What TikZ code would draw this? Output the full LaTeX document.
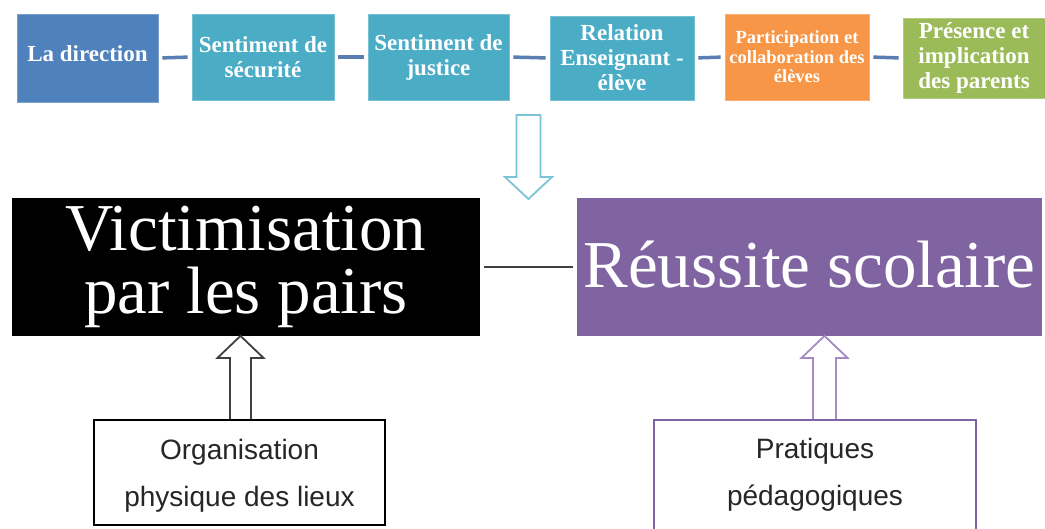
\documentclass[tikz,border=0pt]{standalone}
\usepackage{fontspec}
\setmainfont{Liberation Serif}
\setsansfont{Liberation Sans}
\usetikzlibrary{calc}
\definecolor{cblue}{HTML}{4F81BD}
\definecolor{cteal}{HTML}{4BACC6}
\definecolor{corange}{HTML}{F79646}
\definecolor{cgreen}{HTML}{9BBB59}
\definecolor{cpurple}{HTML}{8064A2}
\definecolor{cconn}{HTML}{5A7DB2}
\definecolor{carrowteal}{HTML}{7CC3D8}
\definecolor{carrowpurple}{HTML}{A48BC4}
\definecolor{cdark}{HTML}{3F3F3F}
\tikzset{
  topbox/.style={rectangle, fill=#1, draw=#1!75!white, line width=0.8pt, text=white,
    font=\bfseries\fontsize{23}{25}\selectfont, align=center, inner sep=0pt},
  smalltop/.style={font=\bfseries\fontsize{18.5}{19.5}\selectfont},
  conn/.style={draw=cconn, line width=3.5pt, shorten >=4pt, shorten <=4pt},
  bigbox/.style={rectangle, fill=#1, draw=none, text=white, inner sep=0pt,
    font=\fontsize{67}{63}\selectfont, align=center},
  botbox/.style={rectangle, draw=#1, fill=white, line width=2.2pt, inner sep=0pt,
    text=black!85, font=\sffamily\fontsize{28}{47}\selectfont, align=center},
  blockarrow/.style={draw=#1, fill=white, line width=1.8pt, line join=miter},
}
\begin{document}
\begin{tikzpicture}[x=1pt,y=-1pt]
\useasboundingbox (0,0) rectangle (1045,528);
\clip (0,0) rectangle (1045,528);
\fill[white] (0,0) rectangle (1045,528);
% top row
\node[topbox=cblue, minimum width=141pt, minimum height=88pt] (d1) at (87.5,58) {\raisebox{8pt}{La direction}};
\node[topbox=cteal, minimum width=142pt, minimum height=86pt] (d2) at (263,57) {Sentiment de\\sécurité};
\node[topbox=cteal, minimum width=141pt, minimum height=86pt] (d3) at (438.5,57) {Sentiment de\\justice};
\node[topbox=cteal, minimum width=144pt, minimum height=84pt] (d4) at (622,58) {Relation\\Enseignant -\\élève};
\node[topbox=corange, smalltop, minimum width=144pt, minimum height=86pt] (d5) at (797,57) {Participation et\\collaboration des\\élèves};
\node[topbox=cgreen, minimum width=142pt, minimum height=80pt] (d6) at (974,58) {Présence et\\implication\\des parents};
\draw[conn] (d1.east) -- (d2.west);
\draw[conn] (d2.east) -- (d3.west);
\draw[conn] (d3.east) -- (d4.west);
\draw[conn] (d4.east) -- (d5.west);
\draw[conn] (d5.east) -- (d6.west);
% big boxes
\node[bigbox=black, minimum width=468pt, minimum height=138pt] (vic) at (246,267) {Victimisation\\par les pairs};
\node[bigbox=cpurple, minimum width=465pt, minimum height=138pt] (rs) at (809.5,267) {\raisebox{5pt}{Réussite scolaire}};
\draw[cdark, line width=1.5pt, shorten >=4pt, shorten <=4pt] (vic.east) -- (rs.west);
\coordinate (mid) at ($(vic.east)!0.5!(rs.west)$);
% down arrow
\draw[blockarrow=carrowteal] ($(mid)+(-12,-152)$) -- ($(mid)+(12,-152)$) -- ($(mid)+(12,-90)$)
  -- ($(mid)+(23.5,-90)$) -- ($(mid)+(0,-68)$) -- ($(mid)+(-23.5,-90)$) -- ($(mid)+(-12,-90)$) -- cycle;
% bottom boxes
\node[botbox=black, minimum width=291pt, minimum height=105pt] (org) at (239.5,472.5) {\rule{0pt}{27pt}Organisation\\physique des lieux};
\node[botbox=cpurple, minimum width=322pt, minimum height=110pt] (prat) at (815,475) {Pratiques\\pédagogiques};
% up arrows
\coordinate (la) at ($(org.north)+(1,0)$);
\draw[blockarrow=cdark] ($(la)+(-10.5,0)$) -- ($(la)+(-10.5,-61)$) -- ($(la)+(-23,-61)$)
  -- ($(la)+(0,-83)$) -- ($(la)+(23,-61)$) -- ($(la)+(10.5,-61)$) -- ($(la)+(10.5,0)$);
\coordinate (ra) at ($(prat.north)+(9.5,0)$);
\draw[blockarrow=carrowpurple] ($(ra)+(-11.5,0)$) -- ($(ra)+(-11.5,-61)$) -- ($(ra)+(-23,-61)$)
  -- ($(ra)+(0,-83)$) -- ($(ra)+(23,-61)$) -- ($(ra)+(11.5,-61)$) -- ($(ra)+(11.5,0)$);
\end{tikzpicture}
\end{document}
